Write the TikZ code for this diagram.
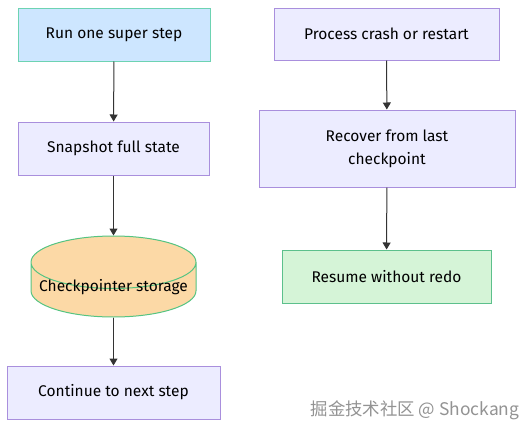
\documentclass[tikz,border=0pt]{standalone}
\usepackage{fontspec}
\setmainfont{Fira Sans}
\newfontfamily\cjk{Noto Sans CJK SC}
\usepackage{tikz}
\usetikzlibrary{shapes.geometric, arrows.meta}
\usepackage{xcolor}

\definecolor{runfill}{HTML}{CDE6FF}
\definecolor{runline}{HTML}{6DD3B2}
\definecolor{lavfill}{HTML}{ECECFF}
\definecolor{lavline}{HTML}{A98FDD}
\definecolor{storefill}{HTML}{FCD9A6}
\definecolor{storeline}{HTML}{55C482}
\definecolor{okfill}{HTML}{D5F4D7}
\definecolor{okline}{HTML}{5CC08C}
\definecolor{arrowgray}{HTML}{333333}

\tikzset{
  stepbox/.style={draw, line width=1pt, rectangle, inner sep=2pt, align=center,
    font=\fontsize{15.5}{23}\selectfont},
  flow/.style={-{Triangle[length=7pt,width=8pt]}, line width=1pt, draw=arrowgray},
}

\begin{document}
\begin{tikzpicture}[x=1pt, y=-1pt]

% -------------------------
% Canvas
% -------------------------
\useasboundingbox[fill=white] (0,0) rectangle (531,434);

% -------------------------
% Left column: checkpoint flow
% -------------------------
\node[stepbox, fill=runfill, draw=runline, minimum width=192pt, minimum height=53pt]
  (run) at (114,34.5) {Run one super step};
\node[stepbox, fill=lavfill, draw=lavline, minimum width=191pt, minimum height=53pt]
  (snap) at (113.5,148.5) {Snapshot full state};
\node[cylinder, shape border rotate=90, aspect=0.33, draw=storeline, fill=storefill,
  line width=1pt, text width=155pt, minimum width=165pt, minimum height=81pt, inner sep=2pt,
  anchor=shape center,
  label={[font=\fontsize{15.5}{23}\selectfont, yshift=5.5pt]center:Checkpointer storage}]
  (store) at (113.5,276.5) {};
\node[stepbox, fill=lavfill, draw=lavline, minimum width=213pt, minimum height=53pt]
  (cont) at (113.5,392.5) {Continue to next step};

% -------------------------
% Right column: recovery flow
% -------------------------
\node[stepbox, fill=lavfill, draw=lavline, minimum width=225pt, minimum height=52pt]
  (crash) at (386.5,34) {Process crash or restart};
\node[stepbox, fill=lavfill, draw=lavline, minimum width=256pt, minimum height=77pt]
  (recover) at (387,148.5) {Recover from last\\checkpoint};
\node[stepbox, fill=okfill, draw=okline, minimum width=209pt, minimum height=53pt]
  (resume) at (386.5,276.5) {Resume without redo};

% -------------------------
% Arrows
% -------------------------
\draw[flow] (run) -- (snap);
\draw[flow] (snap) -- (store);
\draw[flow] (store) -- (cont);
\draw[flow] (crash) -- (recover);
\draw[flow] (recover) -- (resume);

% -------------------------
% Watermark
% -------------------------
\node[text=gray!85, font=\cjk\fontsize{17.4}{20}\selectfont] (mark) at (415,410)
  {掘金技术社区 @ Shockang};

\end{tikzpicture}
\end{document}
